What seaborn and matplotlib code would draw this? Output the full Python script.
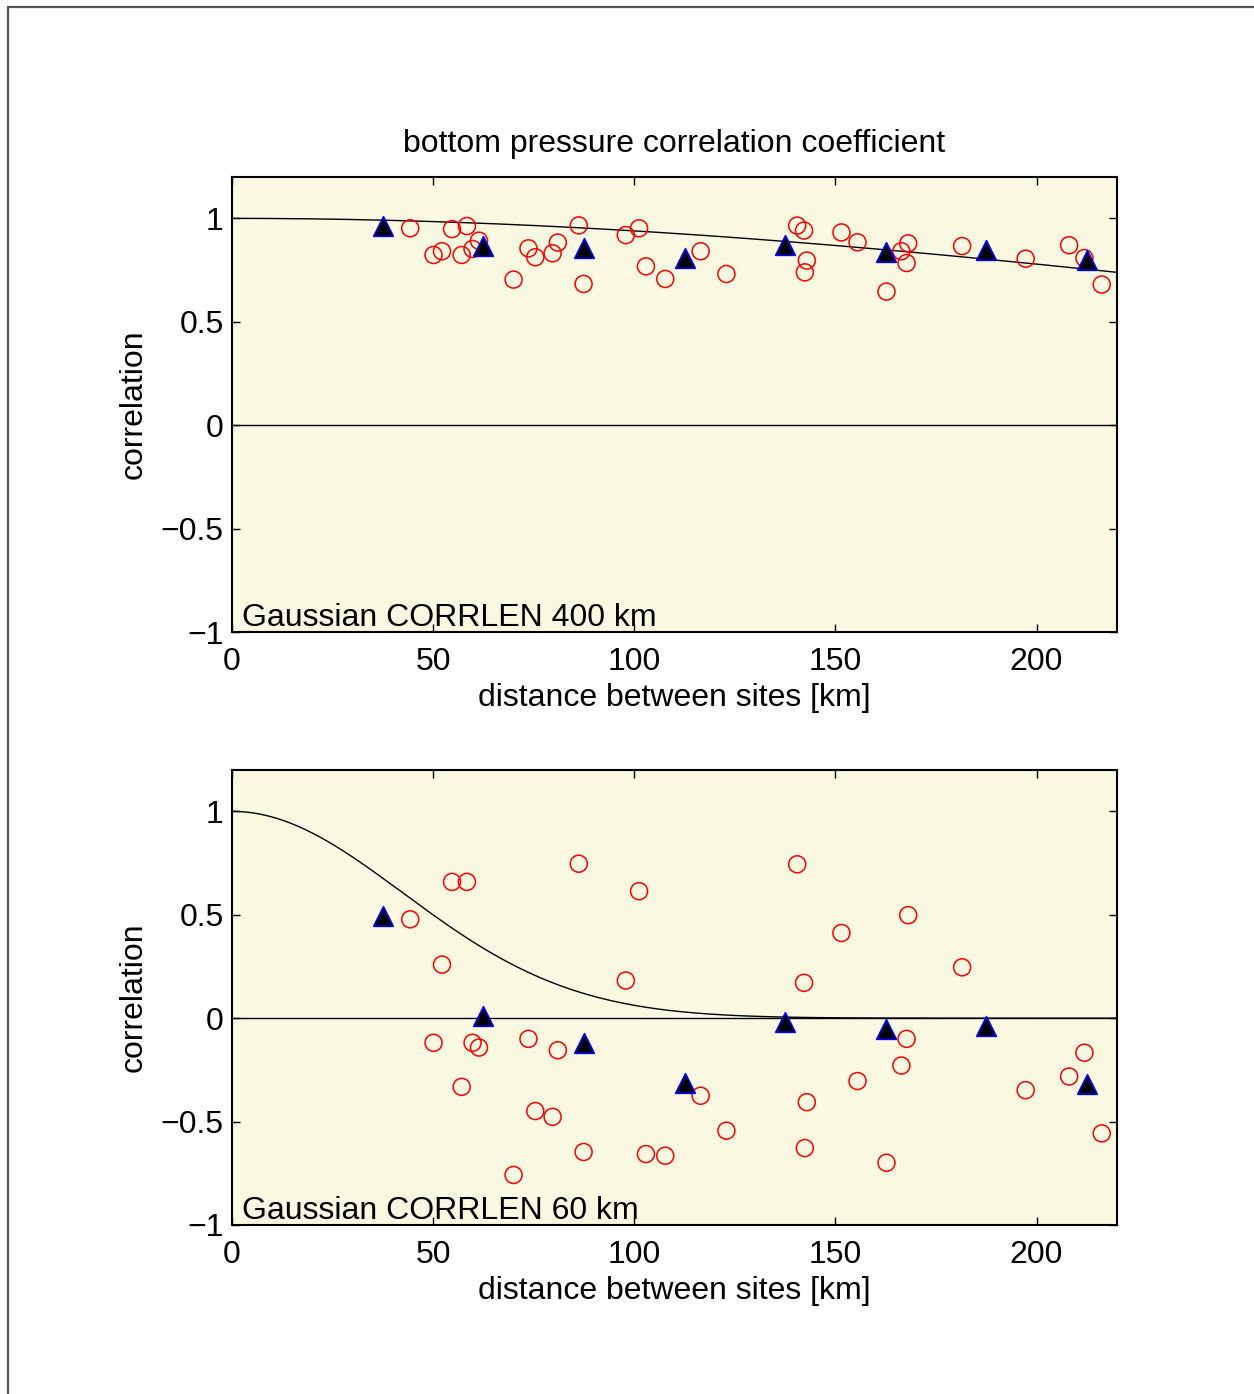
import numpy as np
import pandas as pd
import matplotlib
matplotlib.use("Agg")
import matplotlib.pyplot as plt
from matplotlib.lines import Line2D
import seaborn as sns

# ---- data ----
distance_km = [44.3, 50.1, 52.2, 54.7, 57.1, 58.4, 59.8, 61.4, 70.0, 73.7, 75.4, 79.7,
               81.0, 86.2, 87.4, 97.9, 101.2, 102.9, 107.7, 116.5, 122.9, 140.5, 142.2,
               142.4, 142.9, 151.5, 155.5, 162.7, 166.4, 167.7, 168.1, 181.5, 197.3,
               208.1, 211.9, 216.2]
corr_400 = [0.952, 0.823, 0.841, 0.948, 0.823, 0.963, 0.852, 0.892, 0.704, 0.855, 0.812,
            0.831, 0.883, 0.966, 0.683, 0.919, 0.952, 0.768, 0.707, 0.841, 0.731, 0.965,
            0.941, 0.739, 0.796, 0.932, 0.884, 0.646, 0.841, 0.784, 0.879, 0.866, 0.805,
            0.870, 0.808, 0.680]
corr_60 = [0.478, -0.119, 0.259, 0.659, -0.332, 0.659, -0.119, -0.142, -0.758, -0.100,
           -0.449, -0.477, -0.155, 0.747, -0.647, 0.182, 0.614, -0.657, -0.665, -0.375,
           -0.544, 0.744, 0.171, -0.628, -0.406, 0.412, -0.304, -0.699, -0.229, -0.100,
           0.498, 0.246, -0.348, -0.282, -0.167, -0.557]
bin_centers = [37.5, 62.5, 87.5, 112.5, 137.5, 162.5, 187.5, 212.5]
bin_400 = [0.962, 0.866, 0.858, 0.810, 0.869, 0.839, 0.847, 0.799]
bin_60 = [0.492, 0.010, -0.122, -0.315, -0.017, -0.054, -0.038, -0.320]
corrlens = [400, 60]
labels = ["Gaussian CORRLEN 400 km", "Gaussian CORRLEN 60 km"]
xticks = [0, 50, 100, 150, 200]
yticks = [-1, -0.5, 0, 0.5, 1]
ytick_labels = ["\u22121", "\u22120.5", "0", "0.5", "1"]

# ---- style ----
sns.set_theme(style="ticks", rc={"text.color": "black", "axes.labelcolor": "black",
                                 "xtick.color": "black", "ytick.color": "black"})
plt.rcParams["font.family"] = ["Liberation Sans", "DejaVu Sans"]
FS = 23

fig = plt.figure(figsize=(12.54, 13.94), dpi=100)
fig.patch.set_facecolor("white")

# figure frame lines (top and left)
fig.add_artist(Line2D([8/1254, 1.0], [1 - 7/1394, 1 - 7/1394], transform=fig.transFigure,
                      color="#555555", lw=1.6))
fig.add_artist(Line2D([8/1254, 8/1254], [0.0, 1 - 7/1394], transform=fig.transFigure,
                      color="#555555", lw=1.6))

left, width = 232/1254, (1117 - 232)/1254
bottoms = [1 - 632/1394, 1 - 1225/1394]
height = (632 - 177)/1394

curve_x = np.linspace(0, 220, 400)
panels = [corr_400, corr_60]
bins = [bin_400, bin_60]

for i in range(2):
    ax = fig.add_axes([left, bottoms[i], width, height])
    ax.set_facecolor("#FAF8E1")
    df_pts = pd.DataFrame({"d": distance_km, "r": panels[i]})
    df_bin = pd.DataFrame({"d": bin_centers, "r": bins[i]})
    df_curve = pd.DataFrame({"d": curve_x, "r": np.exp(-(curve_x / corrlens[i]) ** 2)})

    ax.axhline(0, color="black", lw=1.0, zorder=1)
    sns.lineplot(data=df_curve, x="d", y="r", ax=ax, color="black", lw=1.0, zorder=2)
    sns.scatterplot(data=df_pts, x="d", y="r", ax=ax, marker="o", s=150,
                    facecolors="none", edgecolor="red", linewidth=1.1, zorder=3)
    sns.scatterplot(data=df_bin, x="d", y="r", ax=ax, marker="^", s=200,
                    color="black", edgecolor="blue", linewidth=1.2, zorder=4)

    ax.set_xlim(0, 220)
    ax.set_ylim(-1, 1.2)
    ax.set_xticks(xticks)
    ax.set_xticklabels([str(t) for t in xticks])
    ax.set_yticks(yticks)
    ax.set_yticklabels(ytick_labels)
    ax.tick_params(direction="in", length=6, width=1.0, top=True, right=True,
                   labelsize=FS, color="black", labelcolor="black")
    ax.tick_params(axis="x", pad=11)
    ax.tick_params(axis="y", pad=6)
    for sp in ax.spines.values():
        sp.set_visible(True)
        sp.set_linewidth(1.5)
        sp.set_color("black")
    ax.set_xlabel("distance between sites [km]", fontsize=FS, labelpad=4)
    ax.set_ylabel("correlation", fontsize=FS, labelpad=9)
    ax.text(2.5, -0.97, labels[i], fontsize=FS, ha="left", va="baseline", zorder=5)
    if i == 0:
        ax.set_title("bottom pressure correlation coefficient", fontsize=FS, pad=18)

fig.savefig("out.png", dpi=100, facecolor="white")
